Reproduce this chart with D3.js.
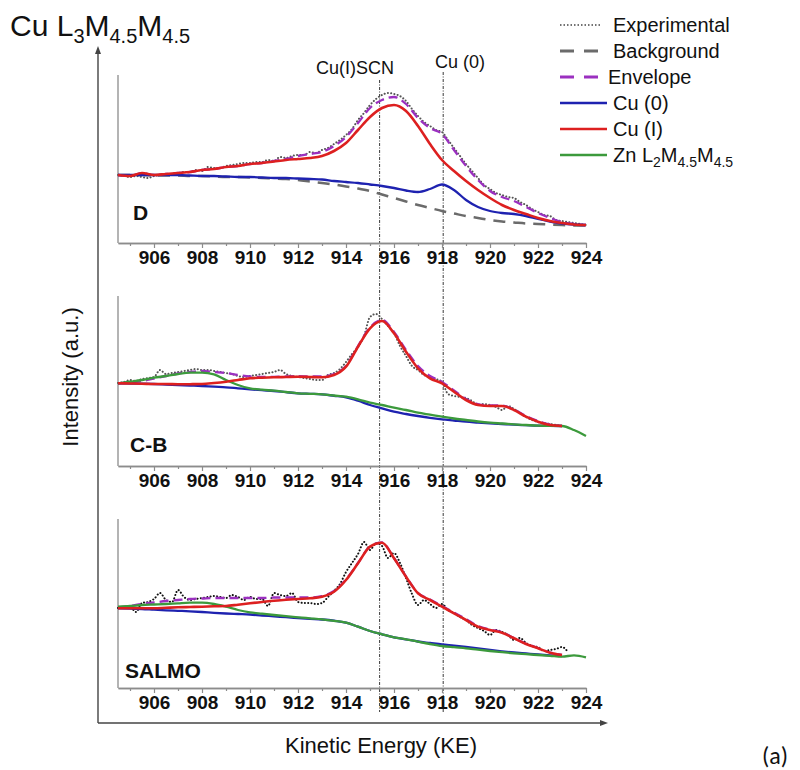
<!DOCTYPE html>
<html>
<head>
<meta charset="utf-8">
<script src="https://cdn.jsdelivr.net/npm/d3@7/dist/d3.min.js"></script>
<style>
  body { margin: 0; background: #fff; }
  svg { font-family: "Liberation Sans", Arial, sans-serif; }
</style>
</head>
<body>
<svg id="chart" width="800" height="770"></svg>
<script>
// kinetic energy grids (eV): fitted components every 0.5, raw data every 0.25
const keFit = d3.range(904.5, 924.01, 0.5);
const keExp = d3.range(904.5, 924.01, 0.25);
const keMajor = [906, 908, 910, 912, 914, 916, 918, 920, 922, 924];
const keMinor = [905, 907, 909, 911, 913, 915, 917, 919, 921, 923];

// ---- sample D (intensity, a.u.) ----
const dCu1 = [68, 67, 70, 68, 69, 70, 71, 73, 74, 76, 77, 79, 80, 81.5, 83, 84, 85, 87, 92, 100,
  113, 126, 135, 138, 132, 117, 99, 83, 72, 62, 53, 45, 38, 33, 29, 25, 22, 20, 18.5, 18];
const dEnvelope = [68, 67, 70, 68, 69, 70, 71, 73, 74, 76, 77, 79, 80, 82, 84, 87, 89, 91, 97, 106,
  120, 135, 143, 146, 139, 125, 115, 109, 93, 77, 63, 52, 46, 42, 36, 30, 25, 21, 19, 18];
const dCu0 = [68, 68, 68, 68, 68, 68, 67.5, 67, 67, 66.5, 66, 66, 65.5, 65, 65, 64.5, 64, 63.5, 62, 61,
  60, 58.5, 57, 55, 52.5, 51, 54, 58.5, 53, 43, 36, 32, 30, 29, 27, 24, 21.5, 19.5, 18.5, 18];
const dBackground = [68, 68, 68, 67.5, 67.5, 67.5, 67, 67, 66.5, 66, 66, 65.5, 65, 64.5, 64, 63, 61.5, 60, 58.5, 56.5,
  54.5, 52, 48.5, 45, 41.5, 38, 35, 32, 29.5, 27, 25, 23, 21.5, 20.5, 19.5, 19, 18.5, 18, 17.5, 17.5];
const dExperimental = [68, 67, 66, 67, 66, 65, 67, 68, 69, 69,
  70, 71, 71, 73, 72, 76, 75, 75, 77, 78,
  79, 80, 80, 81, 81, 83, 82, 86, 85, 87,
  88, 88, 91, 90, 93, 95, 99, 103, 108, 114,
  123, 130, 138, 144, 148, 150, 149, 147, 142, 134,
  127, 121, 117, 113, 111, 103, 95, 87, 79, 72,
  65, 58, 54, 50, 48, 46, 45, 41, 38, 34,
  31, 28, 27, 23, 22, 21, 20, 19, 18];

// ---- sample C-B ----
const cbCu1 = [82.7, 82.5, 82.3, 82, 82, 81.7, 81.8, 82, 83, 84.3, 86, 87.7, 88.3, 88.7, 89, 89.3, 89, 88.7, 91, 99.3,
  119.3, 137.7, 145, 132.7, 114.3, 97.7, 87.7, 82.7, 74.3, 66, 61, 60, 60, 56, 49.3, 44.3, 41, 40, null, null];
const cbEnvelope = [82.7, 83.5, 85, 87.5, 90, 92.5, 94, 95, 94, 93, 91, 89.5, 89, 89.2, 89.5, 89.8, 89.5, 89.5, 92, 100,
  120, 138.5, 146, 134, 116, 100, 90, 84, 75.5, 67, 62, 60.5, 60.5, 56.5, 50, 45, 41.5, 40, null, null];
const cbCu0 = [82.7, 82.5, 82.3, 82, 81.5, 81, 80.5, 80, 79.3, 78.7, 77.7, 76.7, 75.8, 75, 73.8, 72.7, 72.2, 71.7, 70.2, 68.7,
  65.3, 61, 57.7, 54.3, 52, 50, 48.2, 46.7, 45.5, 44.3, 43.5, 42.7, 42, 41.3, 40.8, 40.3, 40.1, 40, null, null];
const cbZn = [82.7, 84.3, 86, 88.3, 90, 92, 93.3, 93.3, 91.7, 86, 81, 77.7, 76.3, 75.3, 74, 72.7, 72.2, 71.7, 70.5, 69.3,
  66.7, 63.3, 61, 58.3, 56, 53.3, 51.3, 49.3, 47.5, 46, 44.5, 43.3, 42.5, 41.7, 41, 40.3, 40.2, 40, 36, 30];
const cbExperimental = [83, 84, 86, 85, 87, 88, 89, 96, 92, 93,
  94, 95, 96, 97, 96, 96, 95, 94, 93, 92,
  90, 89, 90, 91, 92, 93, 94, 96, 92, 90,
  89, 88, 87, 86, 86, 91, 93, 97, 104, 112,
  119, 130, 149, 152, 147, 140, 133, 120, 110, 100,
  96, 91, 89, 87, 84, 72, 70, 69, 68, 65,
  61, 62, 61, 59, 56, 60, 57, 53, 49, 46,
  44, 43, 42, 41, 40];

// ---- sample SALMO ----
const saCu1 = [79.7, 79.7, 79.7, 79.7, 80.2, 80.7, 81, 81.3, 81.7, 82, 83.3, 84.7, 86, 87.3, 88.2, 89, 89.7, 91.3, 96.3, 108,
  124.7, 141.3, 145.3, 129.7, 111.3, 94.7, 88, 81.3, 74.7, 68, 61.3, 58, 55.3, 49.7, 44, 39.7, 35.3, 33, null, null];
const saEnvelope = [80.5, 82, 84, 85.5, 87, 88, 89, 89.5, 90, 90, 90, 90, 90, 90.5, 90.5, 90.5, 90.5, 92, 97, 108.5,
  125, 141.5, 145.5, 130, 111.5, 95, 88.5, 82, 75.5, 69, 62, 58.5, 55.8, 50, 44.3, 40, 35.5, 33.2, null, null];
const saCu0 = [79.7, 79.3, 79, 78.3, 77.7, 77.2, 76.7, 76, 75.2, 74.5, 74, 73.5, 72.5, 71.7, 70.8, 70, 69.2, 68.5, 67.3, 65.3,
  61.3, 57, 53.7, 50.7, 48.7, 46.5, 45, 43.5, 42.3, 41, 39.5, 38, 36.7, 35.5, 34.5, 33.5, 32.7, 32, null, null];
const saZn = [81.3, 82, 83, 83.5, 84, 84.7, 85.3, 85.3, 84, 81.3, 78, 75.7, 74.3, 73, 71.8, 70.7, 69.7, 68.7, 67.2, 65.3,
  61.3, 57, 53.7, 50.7, 48.7, 46.3, 44, 42, 40.8, 39.7, 38.3, 37, 35.8, 34.7, 33.8, 33, 32.2, 31.3, 32.7, 30.7];
const saExperimental = [80, 81, 81, 76, 85, 86, 89, 95, 88, 86,
  98, 91, 88, 89, 90, 91, 92, 91, 90, 93,
  91, 88, 91, 89, 89, 82, 95, 93, 92, 95,
  86, 85, 85, 84, 85, 91, 97, 104, 116, 125,
  134, 146, 138, 145, 142, 130, 135, 125, 110, 94,
  83, 88, 84, 80, 84, 78, 75, 71, 68, 63,
  60, 57, 53, 58, 56, 53, 48, 50, 45, 42,
  41, 37, 38, 39, 41, 36];

// reference positions (eV)
const refLines = [
  { name: "Cu(I)SCN", ke: 915.4, top: 80, tx: 355, ty: 74 },
  { name: "Cu (0)", ke: 918.05, top: 72, tx: 460, ty: 68 }
];

const colors = {
  exp: "#444", background: "#6b6b6b", envelope: "#9b30c0",
  cu0: "#1e22b0", cu1: "#dd2020", zn: "#3c9a3c"
};

const panels = [
  { name: "D", top: 75, bottom: 243, lx: 133, ly: 220, expColor: "#555",
    exp: dExperimental, background: dBackground, envelope: dEnvelope, cu0: dCu0, zn: null, cu1: dCu1 },
  { name: "C-B", top: 296, bottom: 466, lx: 130, ly: 452, expColor: "#555",
    exp: cbExperimental, background: null, envelope: cbEnvelope, cu0: cbCu0, zn: cbZn, cu1: cbCu1 },
  { name: "SALMO", top: 519, bottom: 688, lx: 125, ly: 678, expColor: "#111",
    exp: saExperimental, background: null, envelope: saEnvelope, cu0: saCu0, zn: saZn, cu1: saCu1 }
];

const svg = d3.select("#chart");
const x = d3.scaleLinear().domain([904.5, 924]).range([118, 586]);

// text with subscripts: parts = [[text, isSub], ...]
function richText(sel, parts, size, subSize, shift) {
  let down = false;
  parts.forEach(([t, sub]) => {
    const ts = sel.append("tspan").text(t).attr("font-size", sub ? subSize : size);
    if (sub && !down) { ts.attr("dy", shift); down = true; }
    else if (!sub && down) { ts.attr("dy", -shift); down = false; }
  });
}

// outer arrows
const ax = svg.append("g").attr("stroke", "#444").attr("stroke-width", 1.4);
ax.append("line").attr("x1", 98).attr("y1", 723).attr("x2", 98).attr("y2", 52);
ax.append("line").attr("x1", 98).attr("y1", 723).attr("x2", 602).attr("y2", 723);
svg.append("path").attr("d", "M98,46 L95,54 L101,54 Z").attr("fill", "#444");
svg.append("path").attr("d", "M608,723 L600,720 L600,726 Z").attr("fill", "#444");

// reference lines
refLines.forEach(r => {
  svg.append("line")
    .attr("x1", x(r.ke)).attr("x2", x(r.ke))
    .attr("y1", r.top).attr("y2", 712)
    .attr("stroke", "#222").attr("stroke-width", 0.9)
    .attr("stroke-dasharray", "3,1.5,1,1.5");
  svg.append("text").attr("x", r.tx).attr("y", r.ty)
    .attr("text-anchor", "middle").attr("font-size", 18).attr("fill", "#111")
    .text(r.name);
});

panels.forEach(p => {
  const y = d3.scaleLinear().domain([0, 170]).range([p.bottom, p.bottom - 170]);
  const g = svg.append("g");

  // axes
  g.append("line").attr("x1", 118).attr("x2", 118).attr("y1", p.top).attr("y2", p.bottom)
    .attr("stroke", "#8c8c8c").attr("stroke-width", 1.3);
  const xAxis = g.append("g").attr("transform", `translate(0,${p.bottom})`)
    .call(d3.axisBottom(x).tickValues(keMajor).tickSize(5).tickSizeOuter(0).tickFormat(d3.format("d")));
  const xMinor = g.append("g").attr("transform", `translate(0,${p.bottom})`)
    .call(d3.axisBottom(x).tickValues(keMinor).tickSize(3).tickSizeOuter(0).tickFormat(""));
  [xAxis, xMinor].forEach(a => {
    a.select(".domain").attr("stroke", "#8c8c8c").attr("stroke-width", 1.3);
    a.selectAll(".tick line").attr("stroke", "#8c8c8c").attr("stroke-width", 1.2);
  });
  xAxis.selectAll(".tick text")
    .attr("font-family", "'Liberation Sans Narrow', 'Liberation Sans', Arial, sans-serif")
    .attr("font-weight", "bold").attr("font-size", 19).attr("fill", "#111");

  const line = d3.line()
    .defined(d => d[1] != null)
    .x(d => x(d[0])).y(d => y(d[1]))
    .curve(d3.curveMonotoneX);
  const fit = vals => keFit.map((k, i) => [k, vals[i]]);

  // experimental (dotted)
  g.append("path").datum(p.exp.map((v, i) => [keExp[i], v]))
    .attr("d", line).attr("fill", "none")
    .attr("stroke", p.expColor).attr("stroke-width", 2)
    .attr("stroke-linecap", "round").attr("stroke-dasharray", "0.1,3.2");

  if (p.background) {
    g.append("path").datum(fit(p.background)).attr("d", line).attr("fill", "none")
      .attr("stroke", colors.background).attr("stroke-width", 2.5).attr("stroke-dasharray", "12,8");
  }
  g.append("path").datum(fit(p.envelope)).attr("d", line).attr("fill", "none")
    .attr("stroke", colors.envelope).attr("stroke-width", 2.3).attr("stroke-dasharray", "9,5");
  g.append("path").datum(fit(p.cu0)).attr("d", line).attr("fill", "none")
    .attr("stroke", colors.cu0).attr("stroke-width", 2.3);
  if (p.zn) {
    g.append("path").datum(fit(p.zn)).attr("d", line).attr("fill", "none")
      .attr("stroke", colors.zn).attr("stroke-width", 2.3);
  }
  g.append("path").datum(fit(p.cu1)).attr("d", line).attr("fill", "none")
    .attr("stroke", colors.cu1).attr("stroke-width", 2.6);

  g.append("text").attr("x", p.lx).attr("y", p.ly)
    .attr("font-size", 21).attr("font-weight", "bold").attr("fill", "#111")
    .text(p.name);
});

// title
richText(svg.append("text").attr("x", 10).attr("y", 36).attr("fill", "#111"),
  [["Cu L", false], ["3", true], ["M", false], ["4.5", true], ["M", false], ["4.5", true]], 30, 20, 7);

// legend
const legend = [
  { name: [["Experimental", false]], color: colors.exp, dash: "1.5,2", w: 1.5, tx: 613 },
  { name: [["Background", false]], color: colors.background, dash: "14,10", w: 3, tx: 613 },
  { name: [["Envelope", false]], color: colors.envelope, dash: "14,10", w: 3, tx: 608 },
  { name: [["Cu (0)", false]], color: colors.cu0, dash: null, w: 2.5, tx: 613 },
  { name: [["Cu (I)", false]], color: colors.cu1, dash: null, w: 2.5, tx: 613 },
  { name: [["Zn L", false], ["2", true], ["M", false], ["4.5", true], ["M", false], ["4.5", true]],
    color: colors.zn, dash: null, w: 2.5, tx: 613 }
];
legend.forEach((l, i) => {
  const cy = 25 + i * 26;
  svg.append("line").attr("x1", 560).attr("x2", l.dash ? 600 : 607).attr("y1", cy).attr("y2", cy)
    .attr("stroke", l.color).attr("stroke-width", l.w)
    .attr("stroke-dasharray", l.dash);
  richText(svg.append("text").attr("x", l.tx).attr("y", cy + 7).attr("fill", "#111"),
    l.name, 20, 14, 5);
});

// axis titles
svg.append("text").attr("x", 381).attr("y", 753).attr("text-anchor", "middle")
  .attr("font-size", 22).attr("fill", "#111").text("Kinetic Energy (KE)");
svg.append("text").attr("transform", "translate(78,377) rotate(-90)").attr("text-anchor", "middle")
  .attr("font-size", 22).attr("fill", "#111").text("Intensity (a.u.)");
svg.append("text").attr("x", 762).attr("y", 764)
  .attr("font-family", "Carlito, 'Open Sans', sans-serif")
  .attr("font-size", 24).attr("fill", "#111").text("(a)");
</script>
</body>
</html>
